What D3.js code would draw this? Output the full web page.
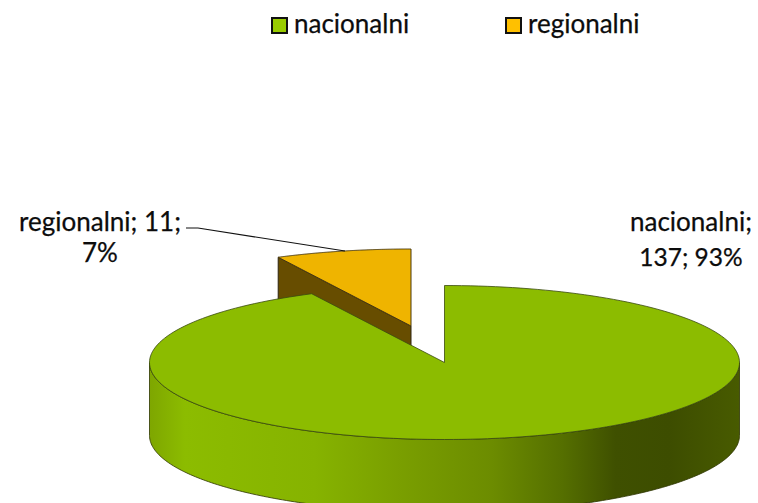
<!DOCTYPE html>
<html><head><meta charset="utf-8">
<script src="https://cdnjs.cloudflare.com/ajax/libs/d3/7.8.5/d3.min.js"></script>
<style>html,body{margin:0;background:#fff}svg{display:block}text{font-family:Lato,"Open Sans",sans-serif;font-size:26px;fill:#0c0c0c;stroke:#0c0c0c;stroke-width:0.25px}</style>
</head><body><svg id="c" width="758" height="503"></svg>
<script>
const categories = ["nacionalni", "regionalni"];
const values = [137, 11];
const topColors = ["#8cbc00", "#efb400"];
const legendColors = ["#99cc00", "#ffc000"];
const sideOrange = "#674d00";
const wallStops = [[0,"#7ea600"],[0.06,"#8cbc00"],[0.28,"#86b300"],[0.42,"#7a9f00"],[0.58,"#6c8c00"],[0.70,"#556f00"],[0.79,"#3f5000"],[0.88,"#3d4d00"],[1,"#485b00"]];

const svg = d3.select("#c");
const cx = 444.5, cy = 362.5, rx = 295, ry = 77, depth = 73;
const explode = {x:-33.5, y:-36.5};
const X = d3.scaleLinear().domain([-1,1]).range([-rx,rx]);
const Y = d3.scaleLinear().domain([-1,1]).range([ry,-ry]);
const arcs = d3.pie().sort(null).startAngle(0).endAngle(2*Math.PI)(values);
const total = d3.sum(values);
const pct = d3.format(".0%");
const pt = a => [X(Math.sin(a)), Y(Math.cos(a))];
const line = d3.line();
const samples = (a,b) => d3.range(0,201).map(i => a+(b-a)*i/200);

const grad = svg.append("defs").append("linearGradient").attr("id","wall");
wallStops.forEach(s => grad.append("stop").attr("offset",s[0]).attr("stop-color",s[1]));

// exploded slice
const g1 = svg.append("g").attr("transform",`translate(${cx+explode.x},${cy+explode.y})`);
const o = arcs[1];
const oA = pt(o.startAngle);
g1.append("path").attr("d",line([oA,[0,0],[0,depth],[oA[0],oA[1]+depth]])+"Z")
  .attr("fill",sideOrange).attr("stroke","#2e2410").attr("stroke-width",1);
g1.append("path").attr("d",line([[0,0],...samples(o.startAngle,o.endAngle).map(pt)])+"Z")
  .attr("fill",topColors[1]).attr("stroke","#4a3a10").attr("stroke-width",1);

// main slice
const g0 = svg.append("g").attr("transform",`translate(${cx},${cy})`);
const n = arcs[0];
const front = samples(Math.PI/2,3*Math.PI/2).map(pt);
g0.append("path").attr("d",line([...front,...front.slice().reverse().map(p=>[p[0],p[1]+depth])])+"Z")
  .attr("fill","url(#wall)").attr("stroke","#2c3300").attr("stroke-width",0.8);
g0.append("path").attr("d",line([[0,0],...samples(n.startAngle,n.endAngle).map(pt)])+"Z")
  .attr("fill",topColors[0]).attr("stroke","#3a4a10").attr("stroke-width",0.8);

// leader line
svg.append("path").attr("d",line([[186,228],[198,228],[345,251]])).attr("fill","none").attr("stroke","#111").attr("stroke-width",1.2);

// data labels
const lab = (x,y,t) => svg.append("text").attr("x",x).attr("y",y).attr("text-anchor","middle").text(t);
lab(100,231,`${categories[1]}; ${values[1]};`);
lab(100,262,pct(values[1]/total));
lab(691,231,`${categories[0]};`);
lab(691,266,`${values[0]}; ${pct(values[0]/total)}`).style("font-size","24.5px");

// legend
const lx = d3.scaleOrdinal().domain(categories).range([271,505]);
categories.forEach((c,i)=>{
  svg.append("rect").attr("x",lx(c)+1).attr("y",18).attr("width",15).attr("height",15)
    .attr("fill",legendColors[i]).attr("stroke","#111").attr("stroke-width",2);
  svg.append("text").attr("x",lx(c)+23).attr("y",33).text(c);
});
</script></body></html>
